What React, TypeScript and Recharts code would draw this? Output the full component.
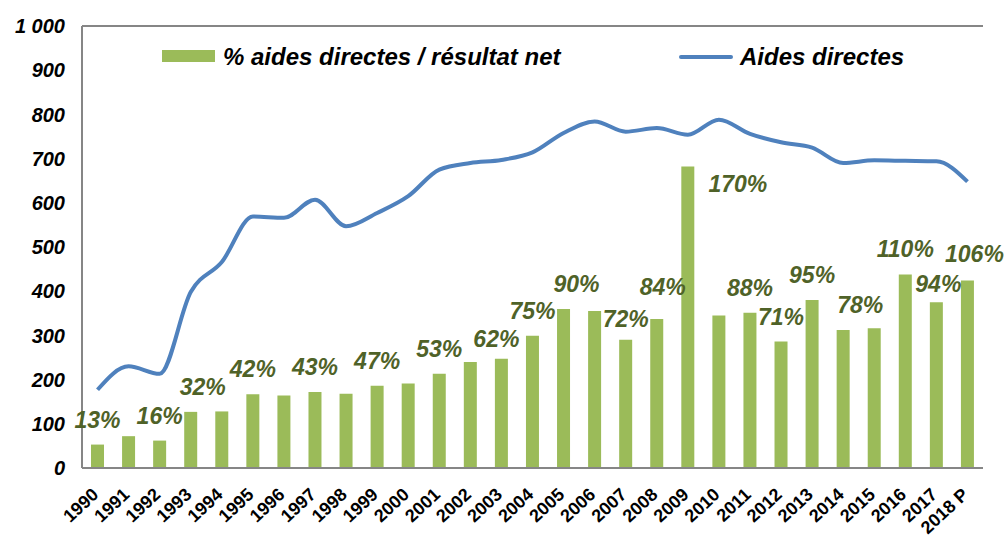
import React from "react";
import {
  ComposedChart,
  Bar,
  Line,
  XAxis,
  YAxis,
  CartesianGrid,
  ReferenceLine,
  LabelList,
} from "recharts";

const years = [
  "1990", "1991", "1992", "1993", "1994", "1995", "1996", "1997", "1998", "1999",
  "2000", "2001", "2002", "2003", "2004", "2005", "2006", "2007", "2008", "2009",
  "2010", "2011", "2012", "2013", "2014", "2015", "2016", "2017", "2018 P",
];

// Aides directes (line)
const aidesDirectes = [
  177, 230, 213, 398, 466, 569, 566, 607, 547, 577,
  615, 675, 690, 697, 714, 758, 784, 761, 769, 754,
  788, 756, 737, 725, 690, 696, 695, 694, 648,
];

// % aides directes / résultat net (bars, drawn on the same 0-1000 scale)
const ratioBars = [
  53, 72, 62, 127, 128, 167, 164, 172, 168, 186,
  191, 213, 240, 247, 299, 360, 355, 290, 337, 682,
  345, 351, 286, 380, 312, 316, 438, 375, 424,
];

const ratioLabels = [
  "13%", "", "16%", "32%", "", "42%", "", "43%", "", "47%",
  "", "53%", "", "62%", "75%", "90%", "", "72%", "84%", "170%",
  "", "88%", "71%", "95%", "78%", "", "110%", "94%", "106%",
];

const yTicks = [0, 100, 200, 300, 400, 500, 600, 700, 800, 900, 1000];

const data = years.map((year, i) => ({
  year,
  aides: aidesDirectes[i],
  ratio: ratioBars[i],
  label: ratioLabels[i],
}));

// label nudges (px) where the original labels sit off-centre
const labelNudge: Record<string, [number, number]> = {
  "1993": [12, 0],
  "2003": [-5, 5],
  "2005": [13, 0],
  "2007": [0, 4],
  "2008": [6, -7],
  "2009": [50, 42],
  "2014": [17, 0],
  "2017": [2, 7],
  "2018 P": [7, -2],
};

const FONT = "'Liberation Sans', Arial, sans-serif";
const GREEN = "#9bbb59";
const BLUE = "#4f81bd";
const GRID = "#868686";
const LABEL = "#4f6228";

const fmtY = (v: number) => (v >= 1000 ? "1 000" : String(v));

function XTick({ x, y, payload }: any) {
  const tx = x + 2;
  const ty = y + 20;
  return (
    <text
      x={tx}
      y={ty}
      textAnchor="end"
      transform={`rotate(-43, ${tx}, ${ty})`}
      fontFamily={FONT}
      fontWeight="bold"
      fontSize={18}
      fill="#000"
    >
      {payload.value}
    </text>
  );
}

function BarLabel(props: any) {
  const { x, y, width, value, index } = props;
  if (!value) return null;
  const [dx, dy] = labelNudge[years[index]] ?? [0, 0];
  return (
    <text
      x={x + width / 2 + dx}
      y={y - 17 + dy}
      textAnchor="middle"
      fontFamily={FONT}
      fontWeight="bold"
      fontStyle="italic"
      fontSize={23}
      fill={LABEL}
    >
      {value}
    </text>
  );
}

function LegendBox() {
  const txt: React.CSSProperties = {
    position: "absolute",
    fontFamily: FONT,
    fontWeight: "bold",
    fontStyle: "italic",
    fontSize: 24,
    lineHeight: "24px",
    color: "#000",
    whiteSpace: "nowrap",
  };
  return (
    <>
      <div style={{ position: "absolute", left: 162, top: 50, width: 53, height: 12, background: GREEN }} />
      <div style={{ ...txt, left: 223, top: 45 }}>% aides directes / résultat net</div>
      <div style={{ position: "absolute", left: 679, top: 55, width: 54, height: 4, borderRadius: 2, background: BLUE }} />
      <div style={{ ...txt, left: 740, top: 45 }}>Aides directes</div>
    </>
  );
}

export default function App() {
  return (
    <div style={{ position: "relative", width: 1005, height: 539, background: "#fff" }}>
      <style>{`body{margin:0}`}</style>
      <ComposedChart
        width={1005}
        height={539}
        data={data}
        margin={{ top: 26, right: 22, left: 0, bottom: 0 }}
        barCategoryGap={0}
      >
        <CartesianGrid vertical={false} stroke={GRID} strokeWidth={2} strokeDasharray="8 5" />
        <XAxis
          dataKey="year"
          interval={0}
          height={71}
          tickLine={false}
          axisLine={{ stroke: GRID, strokeWidth: 2 }}
          tick={<XTick />}
        />
        <YAxis
          yAxisId="left"
          domain={[0, 1000]}
          ticks={yTicks}
          width={82}
          tickLine={false}
          tickMargin={11}
          axisLine={{ stroke: GRID, strokeWidth: 2 }}
          tickFormatter={fmtY}
          tick={{ fontFamily: FONT, fontWeight: "bold", fontStyle: "italic", fontSize: 20, fill: "#000" }}
          interval={0}
        />
        <YAxis
          yAxisId="right"
          orientation="right"
          domain={[0, 1000]}
          width={0}
          tick={false}
          tickLine={false}
          axisLine={{ stroke: GRID, strokeWidth: 2 }}
        />
        <ReferenceLine yAxisId="left" y={1000} stroke={GRID} strokeWidth={2} />
        <Bar yAxisId="left" dataKey="ratio" fill={GREEN} barSize={13} isAnimationActive={false}>
          <LabelList dataKey="label" content={<BarLabel />} />
        </Bar>
        <Line
          yAxisId="left"
          type="monotone"
          dataKey="aides"
          stroke={BLUE}
          strokeWidth={4}
          dot={false}
          isAnimationActive={false}
        />
      </ComposedChart>
      <LegendBox />
    </div>
  );
}
